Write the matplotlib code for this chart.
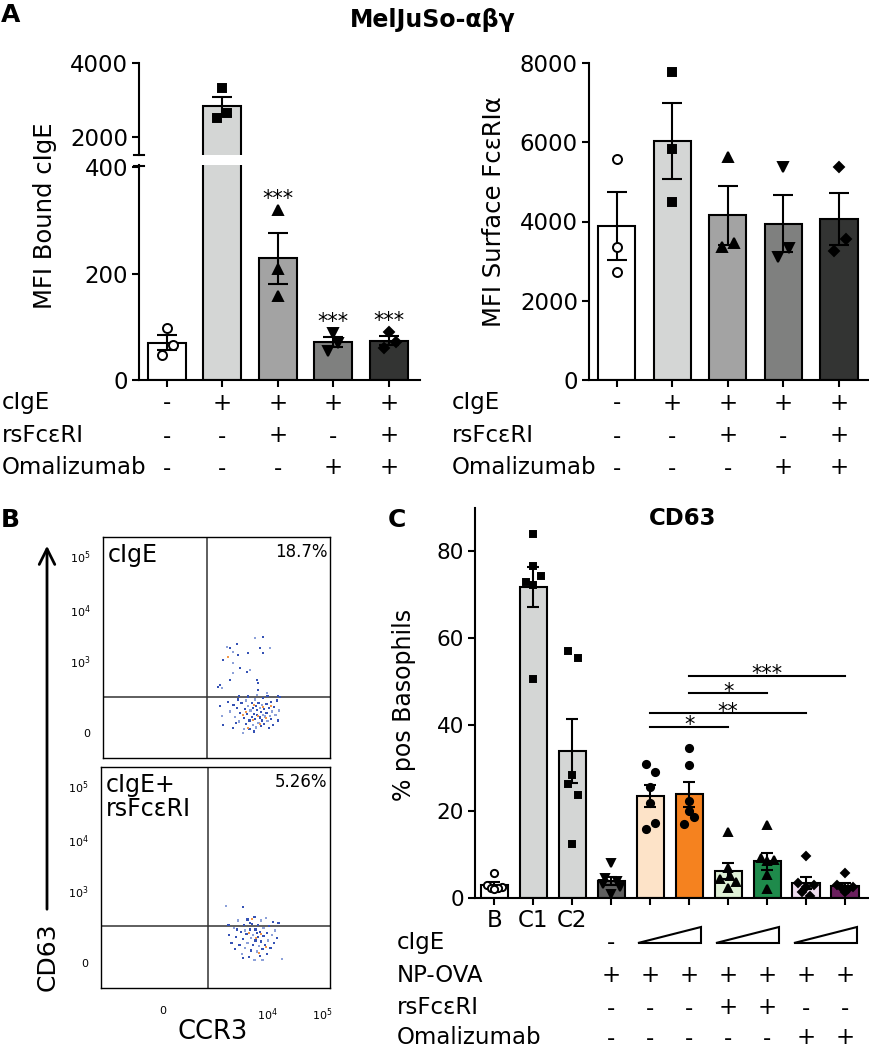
import matplotlib
matplotlib.use('Agg')
import matplotlib.pyplot as plt
import matplotlib.transforms as mtrans
from matplotlib.patches import Polygon, FancyArrowPatch
from matplotlib.lines import Line2D
import numpy as np

plt.rcParams['font.family'] = ['DejaVu Sans']
plt.rcParams['mathtext.fontset'] = 'dejavusans'

# ---------------- Panel A data ----------------
a_colors = ['#ffffff', '#d4d6d5', '#a3a3a3', '#7f807f', '#333433']
a_markers = ['o', 's', '^', 'v', 'D']
a_faces = ['white', 'black', 'black', 'black', 'black']
bound_cige = [[98, 66, 47], [3330, 2650, 2510], [319, 209, 157], [88, 70, 55], [90, 72, 60]]
bound_offsets = [[0, 0.11, -0.09], [0, 0.08, -0.1], [0, 0, 0], [0, 0.09, -0.09], [0, 0.12, -0.09]]
bound_stars = ['', '', '***', '***', '***']
surface_fceri = [[5581, 3359, 2727], [7778, 5833, 4495], [5640, 3460, 3359],
                 [5370, 3333, 3114], [5370, 3553, 3266]]
surface_offsets = [[0, 0, 0], [0, 0, 0], [0, 0.11, -0.11], [0, 0.11, -0.09], [0, 0.12, -0.09]]
a_row_labels = ['cIgE', 'rsFcεRI', 'Omalizumab']
a_row_signs = [['-', '+', '+', '+', '+'],
               ['-', '-', '+', '-', '+'],
               ['-', '-', '-', '+', '+']]
bound_ticks_low = [0, 200, 400]
bound_ticks_high = [2000, 4000]
surface_ticks = [0, 2000, 4000, 6000, 8000]

# ---------------- Panel B data (flow cytometry dots, plot units 0-100) ----------------
flow_top_upper = [(54.5, 50.4), (55.9, 49.6), (58.9, 51.6), (57.4, 48.1), (59.6, 46.6), (64.0, 47.4),
                  (67.0, 54.2), (70.6, 54.6), (69.2, 49.6), (73.6, 49.6), (70.6, 47.4), (53.0, 44.3),
                  (57.4, 42.9), (60.4, 40.6), (63.3, 39.0), (64.8, 39.8), (67.7, 35.3), (68.4, 33.8),
                  (57.4, 38.3), (51.5, 33.0), (50.8, 32.3), (52.3, 31.5), (68.4, 30.8), (55.9, 35.3),
                  (72.1, 29.3), (77.2, 28.2)]
flow_top_lower = [(51.5, 23.5), (52.5, 19.0), (53.0, 14.9), (55.0, 25.5), (56.0, 21.0), (57.4, 13.4),
                  (57.5, 24.0), (58.0, 18.5), (59.0, 22.5), (59.5, 26.5), (60.0, 16.5), (60.5, 20.5),
                  (61.0, 24.8), (61.8, 11.4), (62.0, 18.0), (62.5, 22.0), (63.0, 26.0), (63.0, 15.5),
                  (63.5, 20.0), (64.0, 23.5), (64.5, 17.0), (64.5, 13.0), (65.0, 21.5), (65.5, 25.0),
                  (65.5, 18.5), (66.0, 15.0), (66.0, 22.8), (66.5, 20.0), (67.0, 26.5), (67.0, 17.5),
                  (67.5, 23.5), (67.5, 13.8), (68.0, 19.5), (68.0, 21.8), (68.5, 16.0), (68.5, 25.0),
                  (69.0, 18.3), (69.0, 22.5), (69.5, 14.5), (69.5, 20.8), (70.0, 24.0), (70.0, 17.0),
                  (70.5, 27.0), (70.5, 19.5), (71.0, 22.0), (71.0, 15.5), (71.5, 18.8), (72.0, 24.5),
                  (72.0, 20.5), (72.5, 16.8), (73.0, 22.8), (73.0, 13.5), (73.5, 19.0), (74.0, 25.5),
                  (74.0, 17.5), (74.5, 21.0), (75.0, 15.0), (75.5, 23.0), (76.0, 19.5), (76.5, 26.0),
                  (77.0, 17.0), (77.5, 21.5), (78.0, 27.5), (60.0, 28.0), (62.0, 13.0), (64.0, 27.8),
                  (66.5, 12.0), (68.0, 28.5), (72.5, 28.0), (58.5, 16.0)]
flow_top_orange = [(55.2, 45.8), (64.0, 13.4), (63.0, 21.0), (66.5, 24.0), (68.5, 19.0), (70.5, 23.0),
                   (72.0, 18.0), (61.5, 19.5), (69.0, 15.5), (74.0, 23.5), (66.0, 17.0)]
flow_bottom = [(54.6, 37.0), (61.9, 36.5), (55.7, 28.5), (78.9, 13.1),
               (56.0, 24.0), (57.0, 20.5), (58.0, 27.0), (58.5, 17.5), (59.0, 23.0), (60.0, 30.5),
               (60.5, 19.5), (61.0, 25.5), (61.5, 15.5), (62.0, 22.0), (62.5, 28.5), (63.0, 18.0),
               (63.5, 24.5), (64.0, 31.0), (64.0, 20.5), (64.5, 14.0), (65.0, 26.5), (65.5, 22.5),
               (65.5, 17.0), (66.0, 29.0), (66.5, 24.0), (66.5, 19.5), (67.0, 32.0), (67.0, 12.7),
               (67.5, 26.5), (67.5, 21.5), (68.0, 16.5), (68.5, 28.5), (68.5, 23.0), (69.0, 19.0),
               (69.5, 25.5), (69.5, 14.5), (70.0, 30.5), (70.0, 21.0), (70.5, 17.5), (71.0, 27.0),
               (71.0, 23.5), (71.5, 19.5), (72.0, 31.5), (72.5, 25.0), (72.5, 15.5), (73.0, 21.5),
               (73.5, 28.0), (74.0, 18.0), (74.5, 24.0), (75.0, 30.0), (75.5, 20.5), (76.0, 26.0),
               (77.0, 22.5), (77.5, 29.5), (63.0, 26.0), (65.0, 29.5), (68.0, 25.0), (70.5, 12.8),
               (62.0, 13.5), (59.5, 26.5)]
flow_bottom_orange = [(66.0, 31.0), (67.5, 22.8), (70.0, 24.5), (72.0, 18.5), (64.5, 25.0), (69.0, 16.0)]
flow_ytick_pos = [11.3, 44.0, 67.0, 91.5]
flow_ytick_labels = ['0', '$10^3$', '$10^4$', '$10^5$']
flow_xtick_pos = [27.0, 72.5, 96.5]
flow_xtick_labels = ['0', '$10^4$', '$10^5$']
flow_gate_x = [45.8, 46.7]
flow_gate_y = [27.6, 28.0]
flow_titles = ['cIgE', 'cIgE+\nrsFcεRI']
flow_pcts = ['18.7%', '5.26%']

# ---------------- Panel C data ----------------
c_group_labels = ['B', 'C1', 'C2', '', '', '', '', '', '', '']
c_colors = ['#ffffff', '#d4d6d5', '#d4d6d5', '#5f5f5f', '#fde3c8', '#f5821f',
            '#dff0d6', '#1e8a4b', '#eedcee', '#6b1f5e']
c_markers = ['o', 's', 's', 'v', 'o', 'o', '^', '^', 'D', 'D']
c_faces = ['white'] + ['black'] * 9
cd63_pct = [
    [5.8, 3.0, 2.6, 2.4, 2.2, 2.0],
    [84.0, 76.6, 74.3, 72.9, 72.2, 50.5],
    [57.0, 55.3, 28.5, 26.4, 23.8, 12.5],
    [8.1, 4.6, 4.0, 3.2, 2.5, 1.0],
    [31.0, 29.1, 25.7, 22.0, 17.4, 16.0],
    [34.7, 30.8, 22.4, 20.0, 18.7, 17.1],
    [15.3, 7.0, 5.0, 4.3, 3.8, 2.2],
    [16.9, 9.3, 8.8, 8.5, 5.3, 2.0],
    [9.7, 3.5, 3.0, 2.5, 1.5, 0.5],
    [5.8, 3.0, 2.6, 2.3, 2.0, 1.5],
]
cd63_offsets = [
    [0, -0.2, 0.2, -0.08, 0.08, 0],
    [0, 0, 0.2, -0.2, 0, 0],
    [-0.1, 0.15, 0, -0.1, 0.15, 0],
    [0, -0.15, 0.15, -0.22, 0.22, 0],
    [-0.11, 0.13, 0, 0, 0.13, -0.11],
    [0, 0, 0, 0, 0.13, -0.13],
    [0, 0, 0.05, -0.2, 0.2, 0],
    [0, -0.17, 0.17, 0, 0, 0],
    [0, -0.2, 0.2, 0, -0.1, 0.1],
    [0, -0.2, 0.2, -0.08, 0.08, 0],
]
c_ticks = [0, 20, 40, 60, 80]
c_sig = [(4, 6, 39.4, '*'), (4, 8, 42.6, '**'), (5, 7, 47.2, '*'), (5, 9, 51.2, '***')]
c_row_labels = ['cIgE', 'NP-OVA', 'rsFcεRI', 'Omalizumab']
c_cige_minus = [3]
c_wedges = [(4, 5), (6, 7), (8, 9)]
c_npova = {3: '+', 4: '+', 5: '+', 6: '+', 7: '+', 8: '+', 9: '+'}
c_rsfc = {3: '-', 4: '-', 5: '-', 6: '+', 7: '+', 8: '-', 9: '-'}
c_omal = {3: '-', 4: '-', 5: '-', 6: '-', 7: '-', 8: '+', 9: '+'}

# ---------------- figure ----------------
W, H = 870, 1050
fig = plt.figure(figsize=(W / 100, H / 100), dpi=100)


def axpx(x0, y0, x1, y1):
    return fig.add_axes([x0 / W, 1 - y1 / H, (x1 - x0) / W, (y1 - y0) / H])


def ftext(x, y, s, **kw):
    fig.text(x / W, 1 - y / H, s, **kw)


def fline(x0, y0, x1, y1, lw=1.5):
    fig.add_artist(Line2D([x0 / W, x1 / W], [1 - y0 / H, 1 - y1 / H], color='black',
                          lw=lw, transform=fig.transFigure))


def style_axis(ax, lab=16.5, lw=1.5):
    for s in ['top', 'right']:
        ax.spines[s].set_visible(False)
    for s in ['left', 'bottom']:
        ax.spines[s].set_linewidth(lw)
    ax.tick_params(direction='out', length=5, width=lw, labelsize=lab, pad=3)


MS_SCALE = {'o': 1.0, 's': 0.95, '^': 1.05, 'v': 1.05, 'D': 0.8}


def draw_bars(ax, pts, offs, colors, markers, faces, width, capsize, ms, lw=1.5):
    for i, p in enumerate(pts):
        p = np.array(p, float)
        m = p.mean()
        sem = p.std(ddof=1) / np.sqrt(len(p))
        ax.bar(i, m, width=width, color=colors[i], edgecolor='black', linewidth=lw, zorder=2)
        ax.errorbar(i, m, yerr=sem, fmt='none', ecolor='black', elinewidth=lw,
                    capsize=capsize, capthick=lw, zorder=3)
        ax.plot(i + np.array(offs[i]), p, linestyle='none', marker=markers[i],
                mfc=faces[i], mec='black', mew=1.4, ms=ms * MS_SCALE[markers[i]], zorder=4)


# ===== Panel A left (broken axis) =====
axAb = axpx(139, 165, 420, 380)
axAt = axpx(139, 63, 420, 155)
for ax in (axAb, axAt):
    draw_bars(ax, bound_cige, bound_offsets, a_colors, a_markers, a_faces, 0.68, 7, 6.5)
    style_axis(ax)
    ax.set_xlim(-0.5, 4.56)
axAb.set_ylim(0, 404)
axAb.set_yticks(bound_ticks_low)
axAb.set_xticks(range(5))
axAb.set_xticklabels([])
axAt.set_ylim(1514, 4000)
axAt.set_yticks(bound_ticks_high)
axAt.spines['bottom'].set_visible(False)
axAt.set_xticks([])
for i, s in enumerate(bound_stars):
    if s:
        axAb.annotate(s, xy=(i, max(bound_cige[i])), xytext=(0, 4), textcoords='offset points',
                      ha='center', va='baseline', fontsize=15)
fline(134, 155, 144, 155)
fline(134, 166, 144, 166)
ftext(45, 216, 'MFI Bound cIgE', rotation=90, ha='center', va='center', fontsize=17.5)

# ===== Panel A right =====
axAR = axpx(589, 63, 870, 380)
draw_bars(axAR, surface_fceri, surface_offsets, a_colors, a_markers, a_faces, 0.67, 7, 6.5)
style_axis(axAR)
axAR.set_xlim(-0.5, 4.56)
axAR.set_ylim(0, 8000)
axAR.set_yticks(surface_ticks)
axAR.set_xticks(range(5))
axAR.set_xticklabels([])
ftext(494, 212, 'MFI Surface FcεRIα', rotation=90, ha='center', va='center', fontsize=17.5)

# rows of +/- under panel A
for ax, lx in ((axAb, 2), (axAR, 452)):
    tr = mtrans.blended_transform_factory(ax.transData, fig.transFigure)
    for r, (lab, ypx) in enumerate(zip(a_row_labels, [403, 436, 468])):
        ftext(lx, ypx, lab, ha='left', va='center', fontsize=16.5)
        for i, sg in enumerate(a_row_signs[r]):
            ax.text(i, 1 - ypx / H, sg, transform=tr, ha='center', va='center', fontsize=16.5)

ftext(433, 20, 'MelJuSo-αβγ', ha='center', va='center', fontsize=17, fontweight='bold')
ftext(1, 15, 'A', ha='left', va='center', fontsize=18, fontweight='bold')

# ===== Panel B =====
ftext(1, 520, 'B', ha='left', va='center', fontsize=18, fontweight='bold')
flow_boxes = [(103, 537, 330, 758), (101, 767, 330, 988)]
flow_sets = [(flow_top_upper + flow_top_lower, flow_top_orange), (flow_bottom, flow_bottom_orange)]
for k, box in enumerate(flow_boxes):
    ax = axpx(*box)
    ax.set_xlim(0, 100)
    ax.set_ylim(0, 100)
    for s in ax.spines.values():
        s.set_linewidth(1.0)
    blue, orange = flow_sets[k]
    bx = [p[0] for p in blue]
    by = [p[1] for p in blue]
    cols = ['#8da1d9' if j % 3 == 0 else '#3552b5' for j in range(len(bx))]
    ax.scatter(bx, by, s=2.5, c=cols, marker='s', linewidths=0, zorder=3)
    ax.scatter([p[0] for p in orange], [p[1] for p in orange], s=2.5, c='#f3994a',
               marker='s', linewidths=0, zorder=4)
    ax.axvline(flow_gate_x[k], color='#333333', lw=1.1, zorder=2)
    ax.axhline(flow_gate_y[k], color='#333333', lw=1.1, zorder=2)
    ax.set_yticks(flow_ytick_pos)
    ax.set_yticklabels(flow_ytick_labels, fontsize=8)
    ax.tick_params(axis='y', length=0, pad=9)
    if k == 1:
        ax.set_xticks(flow_xtick_pos)
        ax.set_xticklabels(flow_xtick_labels, fontsize=8)
        ax.tick_params(axis='x', length=0, pad=13)
    else:
        ax.set_xticks([])
    ax.text(0.02, 0.975, flow_titles[k], transform=ax.transAxes, ha='left', va='top',
            fontsize=17, linespacing=1.0)
    ax.text(0.99, 0.975, flow_pcts[k], transform=ax.transAxes, ha='right', va='top', fontsize=12)

ftext(213, 1032, 'CCR3', ha='center', va='center', fontsize=18.5)
ftext(48, 957, 'CD63', rotation=90, ha='center', va='center', fontsize=18)
fig.add_artist(FancyArrowPatch((47 / W, 1 - 912 / H), (47 / W, 1 - 543 / H),
                               transform=fig.transFigure, arrowstyle='->',
                               mutation_scale=28, lw=2, color='black'))

# ===== Panel C =====
ftext(388, 520, 'C', ha='left', va='center', fontsize=18, fontweight='bold')
ftext(683, 519, 'CD63', ha='center', va='center', fontsize=16.5, fontweight='bold')
axC = axpx(475, 508, 870, 898)
draw_bars(axC, cd63_pct, cd63_offsets, c_colors, c_markers, c_faces, 0.7, 4.5, 5.2)
style_axis(axC, lab=15.5)
axC.set_xlim(-0.5, 9.64)
axC.set_ylim(0, 90)
axC.set_yticks(c_ticks)
axC.set_xticks(range(10))
axC.set_xticklabels(c_group_labels, fontsize=16.5)
ftext(404, 705, '% pos Basophils', rotation=90, ha='center', va='center', fontsize=17)
for i0, i1, yv, s in c_sig:
    axC.plot([i0, i1], [yv, yv], color='black', lw=1.5, zorder=5, clip_on=False)
    axC.annotate(s, xy=((i0 + i1) / 2, yv), xytext=(0, -3), textcoords='offset points',
                 ha='center', va='baseline', fontsize=15)

trC = mtrans.blended_transform_factory(axC.transData, fig.transFigure)
row_y = [943, 975, 1008, 1038]
for lab, ypx in zip(c_row_labels, row_y):
    ftext(397, ypx, lab, ha='left', va='center', fontsize=16.5)
for i in c_cige_minus:
    axC.text(i, 1 - row_y[0] / H, '-', transform=trC, ha='center', va='center', fontsize=16.5)
for i0, i1 in c_wedges:
    poly = Polygon([(i0 - 0.31, 1 - 943 / H), (i1 + 0.31, 1 - 943 / H), (i1 + 0.31, 1 - 927 / H)],
                   closed=True, facecolor='white', edgecolor='black', lw=1.5, transform=trC,
                   clip_on=False)
    fig.add_artist(poly)
for d, ypx in ((c_npova, row_y[1]), (c_rsfc, row_y[2]), (c_omal, row_y[3])):
    for i, sg in d.items():
        axC.text(i, 1 - ypx / H, sg, transform=trC, ha='center', va='center', fontsize=16.5)

fig.savefig('out.png', dpi=100)
